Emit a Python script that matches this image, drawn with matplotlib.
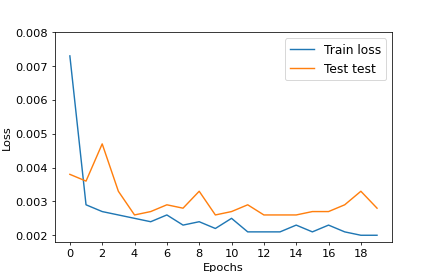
import matplotlib
matplotlib.use("Agg")
import matplotlib.pyplot as plt

epochs = list(range(20))
train_loss = [0.0073, 0.0029, 0.0027, 0.0026, 0.0025, 0.0024, 0.0026, 0.0023, 0.0024, 0.0022,
              0.0025, 0.0021, 0.0021, 0.0021, 0.0023, 0.0021, 0.0023, 0.0021, 0.0020, 0.0020]
test_loss = [0.0038, 0.0036, 0.0047, 0.0033, 0.0026, 0.0027, 0.0029, 0.0028, 0.0033, 0.0026,
             0.0027, 0.0029, 0.0026, 0.0026, 0.0026, 0.0027, 0.0027, 0.0029, 0.0033, 0.0028]

plt.rcParams['font.size'] = 12
fig, ax = plt.subplots(figsize=(6.4, 4.0), dpi=68.125)
ax.plot(epochs, train_loss, label="Train loss")
ax.plot(epochs, test_loss, label="Test test")
ax.set_xticks(range(0, 20, 2))
ax.set_ylim(0.0018, 0.008)
ax.set_xlabel("Epochs")
ax.set_ylabel("Loss")
ax.legend(loc="upper right", fontsize=13)
fig.savefig("out.png")
